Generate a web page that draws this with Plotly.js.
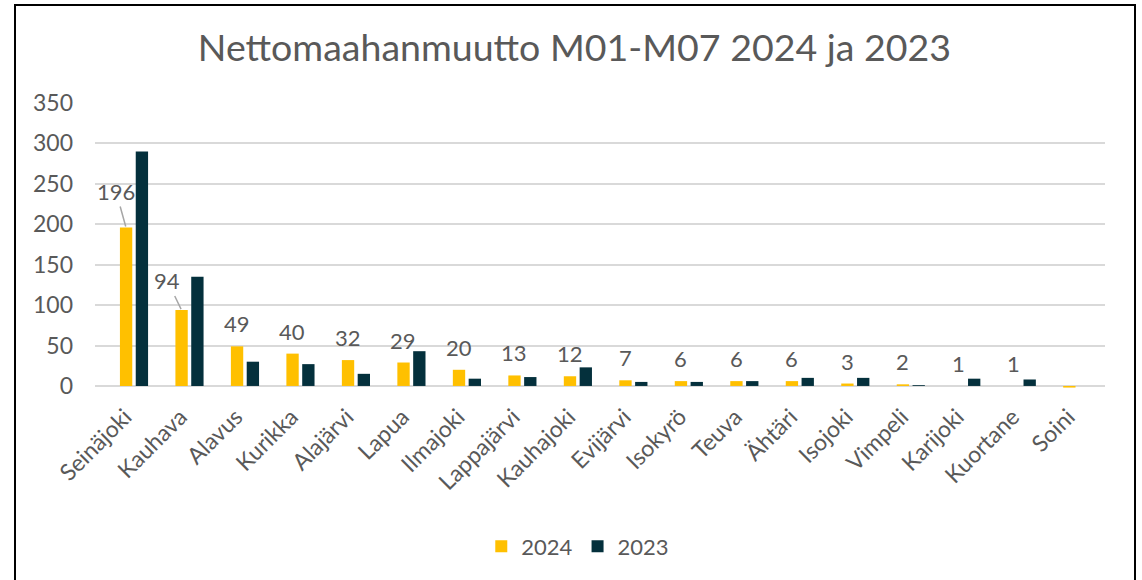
<!DOCTYPE html>
<html>
<head>
<meta charset="utf-8">
<script src="https://cdn.plot.ly/plotly-3.0.1.min.js"></script>
<style>
  html, body { margin: 0; padding: 0; width: 1142px; height: 580px; overflow: hidden; background: #fff; }
  #chart { width: 1142px; height: 580px; }
  #frame { position: absolute; left: 14px; top: 4px; width: 1118px; height: 620px; border: 2px solid #000; pointer-events: none; }
</style>
</head>
<body>
<div id="chart"></div>
<div id="frame"></div>
<script>
const municipalities = ["Seinäjoki","Kauhava","Alavus","Kurikka","Alajärvi","Lapua","Ilmajoki","Lappajärvi","Kauhajoki","Evijärvi","Isokyrö","Teuva","Ähtäri","Isojoki","Vimpeli","Karijoki","Kuortane","Soini"];
const values2024 = [196, 94, 49, 40, 32, 29, 20, 13, 12, 7, 6, 6, 6, 3, 2, 0, 0, -2];
const values2023 = [290, 135, 30, 27, 15, 43, 9, 11, 23, 5, 5, 6, 10, 10, 1, 9, 8, 0];
const labels2024 = ["196","94","49","40","32","29","20","13","12","7","6","6","6","3","2","1","1",""];
const seriesNames = ["2024", "2023"];

const textColor = "#595959";
const fontFam = "Lato, 'Open Sans', sans-serif";

const traces = [
  { type: "bar", name: seriesNames[0], x: municipalities, y: values2024, marker: { color: "#FFC000" }, hoverinfo: "x+y" },
  { type: "bar", name: seriesNames[1], x: municipalities, y: values2023, marker: { color: "#04303C" }, hoverinfo: "x+y" }
];

const labelFont = { size: 22, color: textColor, family: fontFam };
const annotations = [];
municipalities.forEach((m, i) => {
  const lbl = labels2024[i];
  if (!lbl) return;
  const v = Math.max(values2024[i], 0);
  if (i === 0) {
    annotations.push({ x: m, y: v, xshift: -8, text: lbl, showarrow: true, arrowhead: 0, arrowwidth: 1.5, arrowcolor: "#a6a6a6", ax: -10, ay: -36, standoff: 1, font: labelFont });
  } else if (i === 1) {
    annotations.push({ x: m, y: v, xshift: -8, text: lbl, showarrow: true, arrowhead: 0, arrowwidth: 1.5, arrowcolor: "#a6a6a6", ax: -14, ay: -29, standoff: 1, font: labelFont });
  } else {
    annotations.push({ x: m, y: v, xshift: -8, yshift: 7, yanchor: "bottom", text: lbl, showarrow: false, font: labelFont });
  }
});

const layout = {
  width: 1142, height: 580,
  paper_bgcolor: "#ffffff", plot_bgcolor: "#ffffff",
  margin: { l: 95, r: 37, t: 103, b: 187 },
  title: { text: "Nettomaahanmuutto M01-M07 2024 ja 2023", x: 0.503, xanchor: "center", y: 0.917, yanchor: "middle", font: { size: 37.5, color: textColor, family: fontFam } },
  barmode: "group", bargap: 0.43, bargroupgap: 0.22,
  showlegend: true,
  legend: { orientation: "h", x: 0.478, xanchor: "center", y: -0.545, yanchor: "middle", font: { size: 22, color: textColor, family: fontFam }, itemwidth: 30, traceorder: "normal" },
  xaxis: { type: "category", tickangle: -45, tickfont: { size: 23, color: textColor, family: fontFam }, showgrid: false, showline: false, ticks: "", automargin: false, ticklabelshift: -9, ticklabelstandoff: 8 },
  yaxis: { range: [-5, 350], tickvals: [0,50,100,150,200,250,300,350], tickfont: { size: 23, color: textColor, family: fontFam }, gridcolor: "#d9d9d9", gridwidth: 2, zeroline: true, zerolinecolor: "#d9d9d9", zerolinewidth: 2, showline: false, ticks: "", ticklabelstandoff: 21, automargin: false },
  annotations: annotations,
  font: { family: fontFam, color: textColor }
};

Plotly.newPlot("chart", traces, layout, { displayModeBar: false, staticPlot: true });
</script>
</body>
</html>
